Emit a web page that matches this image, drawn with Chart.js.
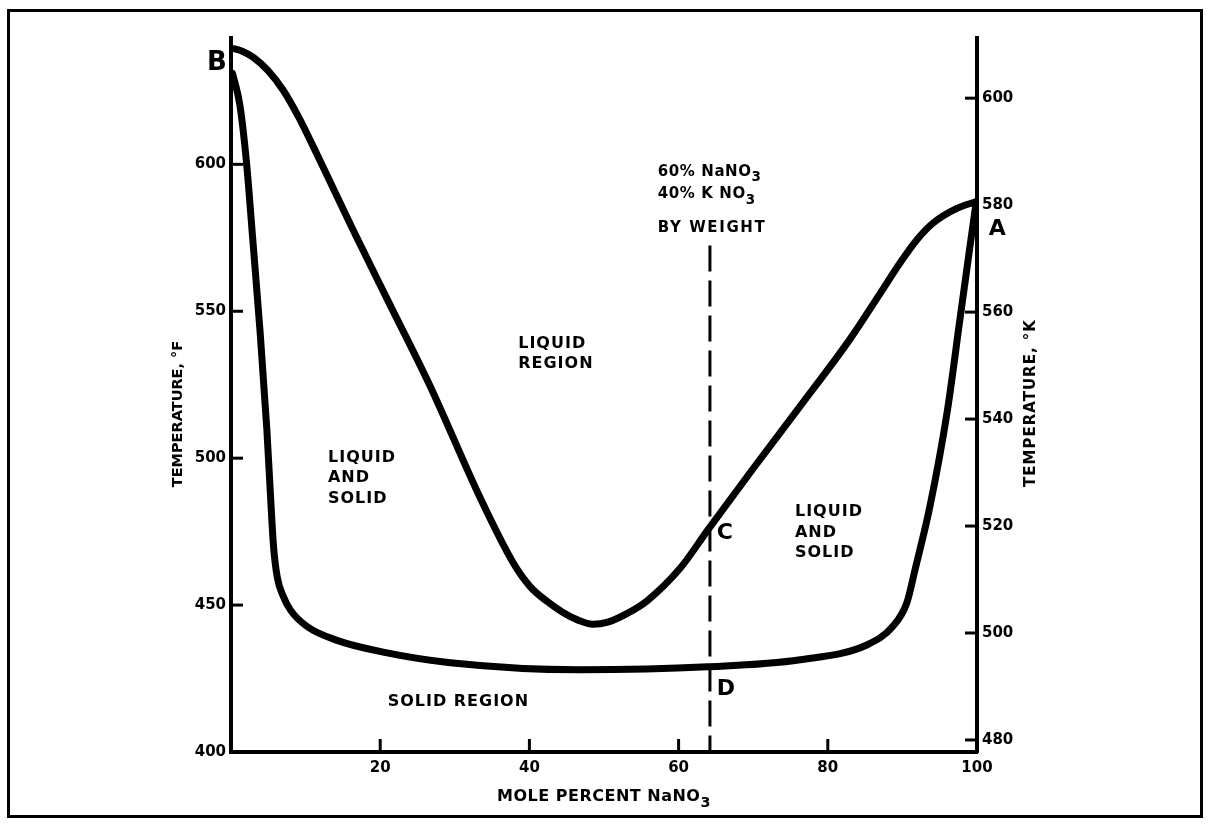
<!DOCTYPE html>
<html>
<head>
<meta charset="utf-8">
<title>NaNO3 - KNO3 phase diagram</title>
<script src="https://cdn.jsdelivr.net/npm/chart.js@4.4.1/dist/chart.umd.min.js"></script>
<style>
  html, body { margin: 0; padding: 0; background: #fff; }
  #wrap { width: 1209px; height: 825px; position: relative; }
  canvas { display: block; }
</style>
</head>
<body>
<div id="wrap"><canvas id="c" width="1209" height="825"></canvas></div>
<script>
// Axis ticks
const X_TICKS = [20, 40, 60, 80, 100];
const F_TICKS = [400, 450, 500, 550, 600];
const K_TICKS = [480, 500, 520, 540, 560, 580, 600];

// Liquidus curve (B -> minimum -> A), mole % NaNO3 vs temperature in °F
const LIQ_X = [0, 1.5, 3, 5, 7, 9, 11, 13, 16.4, 21, 26.7, 33.4, 37.8, 40.1, 42.4, 44.5, 46.6, 48.5, 50.5, 53, 55.8, 60.2, 63.9, 70, 76.3, 83, 87, 89.7, 92, 94.1, 97.3, 100];
const LIQ_F = [639.6, 638.5, 636.4, 631.8, 625.2, 616.4, 606.2, 595.6, 577.5, 553.8, 524.5, 486.5, 464.5, 456.3, 451.2, 447.5, 444.8, 443.5, 444.2, 447, 451.5, 462.5, 475.5, 496.5, 517.7, 540.6, 556, 566.5, 574.5, 580, 585, 587.4];

// Solidus curve
const SOL_X = [0.2, 1.2, 2.1, 2.9, 3.9, 4.8, 5.3, 5.7, 6.2, 7, 8, 10.2, 14.2, 20.4, 29.4, 46.8, 63.9, 76.3, 85.3, 88.7, 90.6, 91.7, 93.7, 96, 97.7, 99, 99.8];
const SOL_F = [631, 620, 600, 575, 543, 510, 487, 470, 459.5, 453, 448.2, 442.7, 438, 434, 430.4, 428, 429, 431.4, 436.5, 442.7, 450.8, 462.1, 483.7, 515.7, 547, 571, 585.5];

// 60% NaNO3 / 40% KNO3 by weight composition line
const DASH_X = [64.2, 64.2];
const DASH_F = [572.4, 400];

const pts = (xs, ys) => xs.map((v, i) => ({ x: v, y: ys[i] }));

const INK = '#000';
const FONT = 'DejaVu Sans';

function drawRich(ctx, parts, x, y, size, spacing) {
  // parts: [text, isSubscript]
  let cx = x;
  parts.forEach(([t, sub]) => {
    const s = sub ? size * 0.9 : size;
    ctx.font = `bold ${s}px "${FONT}"`;
    ctx.letterSpacing = spacing + 'px';
    ctx.fillText(t, cx, sub ? y + size * 0.38 : y);
    cx += ctx.measureText(t).width;
  });
  return cx - x;
}

const decor = {
  id: 'decor',
  beforeDraw(chart) {
    const ctx = chart.ctx;
    ctx.save();
    ctx.fillStyle = '#fff';
    ctx.fillRect(0, 0, chart.width, chart.height);
    ctx.strokeStyle = INK;
    ctx.lineWidth = 3;
    ctx.strokeRect(8.5, 10.5, 1193, 806);
    ctx.restore();
  },
  afterDraw(chart) {
    const { ctx, chartArea: ca, scales } = chart;
    const sx = scales.x, sy = scales.y, sk = scales.k;
    ctx.save();
    ctx.strokeStyle = INK;
    ctx.fillStyle = INK;
    ctx.lineWidth = 3;
    ctx.lineCap = 'butt';
    const seg = (a, b, c, d) => { ctx.beginPath(); ctx.moveTo(a, b); ctx.lineTo(c, d); ctx.stroke(); };
    // inward tick marks
    F_TICKS.forEach(v => { if (v === sy.min) return; const p = sy.getPixelForValue(v); seg(ca.left, p, ca.left + 12, p); });
    K_TICKS.forEach(v => { const p = sk.getPixelForValue(v); seg(ca.right - 12, p, ca.right, p); });
    X_TICKS.forEach(v => { if (v === sx.max) return; const p = sx.getPixelForValue(v); seg(p, ca.bottom - 13, p, ca.bottom); });

    const X = v => sx.getPixelForValue(v);
    const Y = v => sy.getPixelForValue(v);

    ctx.textBaseline = 'middle';
    ctx.textAlign = 'left';
    const block = (lines, x, y, gap) => {
      lines.forEach((t, i) => drawRich(ctx, [[t, false]], X(x), Y(y) + i * gap, 16, 1));
    };
    block(['LIQUID', 'REGION'], 38.5, 538.9, 20);
    block(['LIQUID', 'AND', 'SOLID'], 13.0, 500.2, 20.5);
    block(['LIQUID', 'AND', 'SOLID'], 75.6, 481.6, 20.5);
    block(['SOLID REGION'], 21.0, 417.1, 20);

    drawRich(ctx, [['60% NaNO', false], ['3', true]], X(57.2), Y(597.3), 15, 0.6);
    drawRich(ctx, [['40% K NO', false], ['3', true]], X(57.2), Y(589.8), 15, 0.6);
    drawRich(ctx, [['BY WEIGHT', false]], X(57.2), Y(578.2), 15, 1.6);

    // point letters
    ctx.textAlign = 'center';
    ctx.letterSpacing = '0px';
    ctx.font = `bold 26px "${FONT}"`;
    ctx.fillText('B', X(-1.9), Y(634.5));
    ctx.font = `bold 22px "${FONT}"`;
    ctx.fillText('A', X(102.7), Y(577.8));
    ctx.textAlign = 'left';
    ctx.fillText('C', X(65.1), Y(474.4));
    ctx.fillText('D', X(65.1), Y(421.2));

    // axis titles
    ctx.textAlign = 'left';
    const xt = [['MOLE PERCENT NaNO', false], ['3', true]];
    let w = 0;
    xt.forEach(([t, sub]) => {
      ctx.font = `bold ${sub ? 14.4 : 16}px "${FONT}"`;
      ctx.letterSpacing = '0.5px';
      w += ctx.measureText(t).width;
    });
    drawRich(ctx, xt, (ca.left + ca.right) / 2 - w / 2, 797, 16, 0.5);

    ctx.textAlign = 'center';
    ctx.save();
    ctx.translate(178, 414);
    ctx.rotate(-Math.PI / 2);
    ctx.font = `bold 14.5px "${FONT}"`;
    ctx.letterSpacing = '0px';
    ctx.fillText('TEMPERATURE, °F', 0, 0);
    ctx.restore();
    ctx.save();
    ctx.translate(1031, 403);
    ctx.rotate(-Math.PI / 2);
    ctx.font = `bold 15px "${FONT}"`;
    ctx.letterSpacing = '1px';
    ctx.fillText('TEMPERATURE, °K', 0, 0);
    ctx.restore();
    ctx.restore();
  }
};

const tickFont = { family: FONT, size: 15, weight: 'bold' };

new Chart(document.getElementById('c'), {
  type: 'line',
  data: {
    datasets: [
      { label: 'Liquidus', data: pts(LIQ_X, LIQ_F), borderColor: INK, borderWidth: 7, pointRadius: 0,
        cubicInterpolationMode: 'monotone', borderCapStyle: 'round', borderJoinStyle: 'round', yAxisID: 'y' },
      { label: 'Solidus', data: pts(SOL_X, SOL_F), borderColor: INK, borderWidth: 7, pointRadius: 0,
        cubicInterpolationMode: 'monotone', borderCapStyle: 'round', borderJoinStyle: 'round', yAxisID: 'y' },
      { label: 'Composition', data: pts(DASH_X, DASH_F), borderColor: INK, borderWidth: 3, pointRadius: 0,
        borderDash: [26, 9], yAxisID: 'y' }
    ]
  },
  options: {
    responsive: false,
    animation: false,
    layout: { padding: { top: 38, left: 0, right: 0, bottom: 0 } },
    plugins: { legend: { display: false }, tooltip: { enabled: false } },
    scales: {
      x: {
        type: 'linear', position: 'bottom', min: 0, max: 100,
        afterFit: s => { s.height = 73; },
        afterBuildTicks: s => { s.ticks = X_TICKS.map(v => ({ value: v })); },
        grid: { display: false, drawTicks: false },
        border: { display: true, width: 4, color: INK },
        ticks: { font: tickFont, color: INK, padding: 7, maxRotation: 0, autoSkip: false }
      },
      y: {
        type: 'linear', position: 'left', min: 400, max: 643,
        afterFit: s => { s.width = 231; },
        afterBuildTicks: s => { s.ticks = F_TICKS.map(v => ({ value: v })); },
        grid: { display: false, drawTicks: false },
        border: { display: true, width: 4, color: INK },
        ticks: { font: tickFont, color: INK, padding: 5, autoSkip: false }
      },
      k: {
        type: 'linear', position: 'right', min: 477.75, max: 611.25,
        afterFit: s => { s.width = 232; },
        afterBuildTicks: s => { s.ticks = K_TICKS.map(v => ({ value: v })); },
        grid: { display: false, drawTicks: false },
        border: { display: true, width: 4, color: INK },
        ticks: { font: tickFont, color: INK, padding: 5, autoSkip: false }
      }
    }
  },
  plugins: [decor]
});
</script>
</body>
</html>
